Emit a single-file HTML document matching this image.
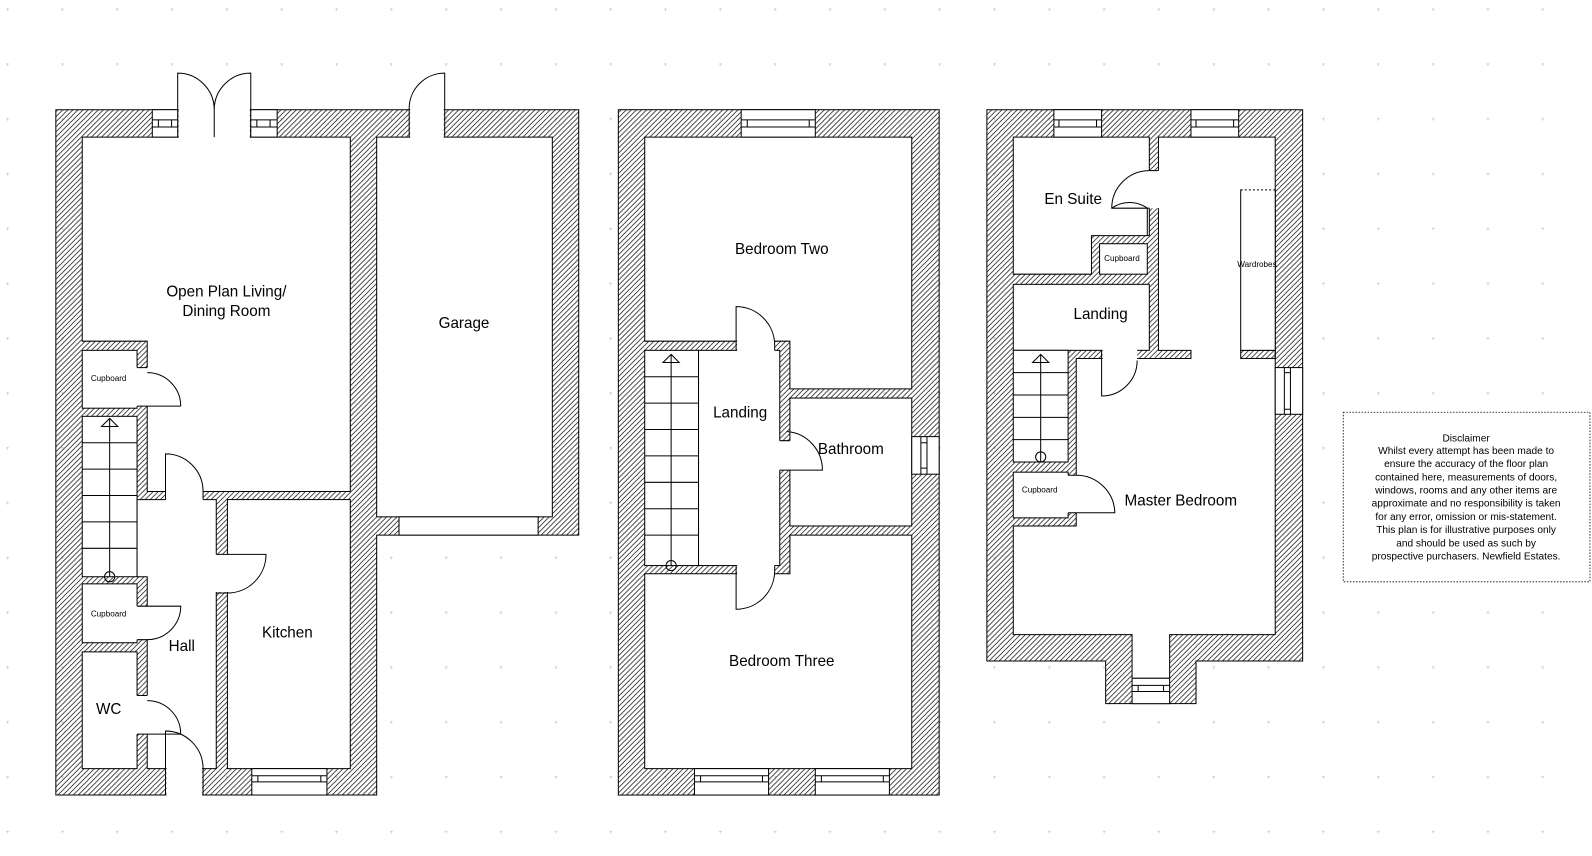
<!DOCTYPE html>
<html><head><meta charset="utf-8"><style>
html,body{margin:0;padding:0;background:#fff}
svg{display:block}
text{font-family:"Liberation Sans",sans-serif;fill:#000}
</style></head><body>
<svg width="1592" height="856" viewBox="0 0 1568 843" xmlns="http://www.w3.org/2000/svg">
<defs>
<pattern id="h" patternUnits="userSpaceOnUse" width="5" height="5">
<path d="M-1,6 L6,-1 M-1,1 L1,-1 M4,6 L6,4" stroke="#000" stroke-width="0.7"/>
</pattern>
<pattern id="g" patternUnits="userSpaceOnUse" width="54" height="54" x="6" y="8">
<path d="M0,1 H3 M1.5,0 V3" stroke="#ccc" stroke-width="0.8"/>
</pattern>
</defs>
<rect width="1568" height="843" fill="url(#g)"/>
<g stroke="#000" stroke-width="1" fill="#fff">
<!-- GROUND FLOOR -->
<polygon points="55,108 570,108 570,527 371,527 371,783 55,783" fill="url(#h)"/>
<polygon points="81,135 345,135 345,484 145,484 145,336 81,336"/>
<rect x="81" y="345" width="54" height="57"/>
<rect x="81" y="410" width="54" height="158"/>
<polygon points="135,492 213,492 213,757 145,757 145,568 135,568"/>
<rect x="224" y="492" width="121" height="265"/>
<rect x="81" y="575" width="54" height="58"/>
<rect x="81" y="642" width="54" height="115"/>
<rect x="371" y="135" width="173" height="374"/>
<rect x="393" y="509" width="137" height="18"/>
</g>
<g fill="#fff" stroke="none">
<rect x="134" y="362" width="12" height="38"/>
<rect x="163" y="483" width="37" height="10"/>
<rect x="212" y="546" width="13" height="37"/>
<rect x="134" y="597" width="12" height="33"/>
<rect x="134" y="685" width="12" height="38"/>
<rect x="164" y="756" width="35" height="28"/>
<rect x="176" y="107" width="70" height="29"/>
<rect x="404" y="107" width="33" height="29"/>
</g>
<g stroke="#000" stroke-width="1" fill="none">
<!-- stairs ground -->
<path d="M81,436H135M81,462H135M81,488H135M81,514H135M81,540H135M108,568V412M100,420L108,412L116,420Z"/>
<circle cx="108" cy="568" r="5"/>
<!-- doors -->
<path d="M135,362H145M135,400H178M178,400A33,33 0 0 0 145,367"/>
<path d="M163,492V447A37,37 0 0 1 200,484V492"/>
<path d="M213,546H262A38,38 0 0 1 224,584H213"/>
<path d="M135,597H178A33,33 0 0 1 145,630H135"/>
<path d="M135,685H145M135,723H178A33,33 0 0 0 145,690"/>
<path d="M163,783V720A37,37 0 0 1 200,757V783"/>
<path d="M175,135V72A36,36 0 0 1 211,108V135M247,135V72A36,36 0 0 0 211,108"/>
<path d="M403,135V108A35,35 0 0 1 438,72V135"/>
<!-- windows ground -->
<rect x="150" y="108" width="25" height="27" fill="#fff"/><path d="M150,118H175M150,125H175M156,118V125M169,118V125"/>
<rect x="247" y="108" width="26" height="27" fill="#fff"/><path d="M247,118H273M247,125H273M253,118V125M266,118V125"/>
<rect x="248" y="757" width="74" height="26" fill="#fff"/><path d="M248,764H322M248,770H322M254,764V770M316,764V770"/>
</g>

<!-- FIRST FLOOR -->
<g stroke="#000" stroke-width="1" fill="#fff">
<rect x="609" y="108" width="316" height="675" fill="url(#h)"/>
<polygon points="635,135 898,135 898,383 778,383 778,336 635,336"/>
<rect x="635" y="345" width="53" height="212"/>
<rect x="688" y="345" width="80" height="212"/>
<rect x="778" y="392" width="120" height="126"/>
<polygon points="635,565 778,565 778,527 898,527 898,757 635,757"/>
</g>
<g fill="#fff" stroke="none">
<rect x="726" y="335" width="37" height="11"/>
<rect x="726" y="556" width="37" height="10"/>
<rect x="767" y="434" width="12" height="29"/>
<rect x="689" y="346" width="78" height="210"/>
</g>
<g stroke="#000" stroke-width="1" fill="none">
<path d="M635,371H688M635,397H688M635,423H688M635,449H688M635,475H688M635,501H688M635,527H688M661,557V349M653,357L661,349L669,357Z"/>
<circle cx="661" cy="557" r="5"/>
<path d="M725,345V302A38,38 0 0 1 763,340V345"/>
<path d="M725,557V600A38,38 0 0 0 763,562V557"/>
<path d="M768,434H778M768,463H810A38,38 0 0 0 775,425"/>
<rect x="730" y="108" width="73" height="27" fill="#fff"/><path d="M730,118H803M730,125H803M736,118V125M797,118V125"/>
<rect x="684" y="757" width="73" height="26" fill="#fff"/><path d="M684,764H757M684,770H757M690,764V770M751,764V770"/>
<rect x="803" y="757" width="73" height="26" fill="#fff"/><path d="M803,764H876M803,770H876M809,764V770M870,764V770"/>
<rect x="898" y="430" width="27" height="37" fill="#fff"/><path d="M907,430V467M913,430V467M907,436H913M907,461H913"/>
</g>

<!-- SECOND FLOOR -->
<g stroke="#000" stroke-width="1" fill="#fff">
<polygon points="972,108 1283,108 1283,651 1178,651 1178,693 1089,693 1089,651 972,651" fill="url(#h)"/>
<polygon points="998,135 1132,135 1132,232 1075,232 1075,270 998,270"/>
<rect x="1083" y="240" width="47" height="30"/>
<polygon points="1141,135 1256,135 1256,625 1152,625 1152,668 1115,668 1115,625 998,625 998,518 1060,518 1060,353 1173,353 1173,345 1141,345"/>
<rect x="998" y="280" width="134" height="65"/>
<rect x="998" y="345" width="54" height="110"/>
<rect x="998" y="465" width="54" height="45"/>
<rect x="1222" y="345" width="34" height="8" fill="url(#h)"/>
<rect x="1222" y="187" width="34" height="158"/>
</g>
<g fill="#fff" stroke="none">
<rect x="1131" y="168" width="11" height="37"/>
<rect x="1086" y="344" width="34" height="10"/>
<rect x="1051" y="468" width="10" height="37"/>
<rect x="1223" y="186" width="32" height="2"/>
</g>
<g stroke="#000" stroke-width="1" fill="none">
<path d="M1222,187H1256" stroke-dasharray="2,2"/>
<path d="M998,367H1052M998,389H1052M998,411H1052M998,433H1052M1025,455V349M1017,357L1025,349L1033,357Z"/>
<circle cx="1025" cy="450" r="5"/>
<path d="M1132,168H1141M1132,205H1095A37,37 0 0 1 1132,168"/>
<path d="M1095,205A30,30 0 0 1 1130,205V232"/>
<path d="M1085,345V390A35,35 0 0 0 1120,355"/>
<path d="M1052,468H1060M1052,505H1098A38,38 0 0 0 1060,468"/>
<rect x="1038" y="108" width="47" height="27" fill="#fff"/><path d="M1038,118H1085M1038,125H1085M1043,118V125M1080,118V125"/>
<rect x="1173" y="108" width="47" height="27" fill="#fff"/><path d="M1173,118H1220M1173,125H1220M1178,118V125M1215,118V125"/>
<rect x="1256" y="362" width="27" height="46" fill="#fff"/><path d="M1265,362V408M1271,362V408M1265,367H1271M1265,403H1271"/>
<rect x="1115" y="668" width="37" height="25" fill="#fff"/><path d="M1115,675H1152M1115,681H1152M1121,675V681M1146,675V681"/>
</g>

<!-- Disclaimer -->
<rect x="1323" y="406" width="243" height="167" fill="#fff" stroke="#000" stroke-width="0.8" stroke-dasharray="1.5,1.5"/>
<g font-size="10" text-anchor="middle">
<text x="1444" y="435">Disclaimer</text>
<text x="1444" y="447">Whilst every attempt has been made to</text>
<text x="1444" y="460">ensure the accuracy of the floor plan</text>
<text x="1444" y="473">contained here, measurements of doors,</text>
<text x="1444" y="486">windows, rooms and any other items are</text>
<text x="1444" y="499">approximate and no responsibility is taken</text>
<text x="1444" y="512">for any error, omission or mis-statement.</text>
<text x="1444" y="525">This plan is for illustrative purposes only</text>
<text x="1444" y="538">and should be used as such by</text>
<text x="1444" y="551">prospective purchasers. Newfield Estates.</text>
</g>

<!-- Labels -->
<g font-size="15" text-anchor="middle">
<text x="223" y="292">Open Plan Living/</text>
<text x="223" y="311">Dining Room</text>
<text x="457" y="323">Garage</text>
<text x="179" y="641">Hall</text>
<text x="283" y="628">Kitchen</text>
<text x="107" y="703">WC</text>
<text x="770" y="250">Bedroom Two</text>
<text x="729" y="411">Landing</text>
<text x="838" y="447">Bathroom</text>
<text x="770" y="656">Bedroom Three</text>
<text x="1057" y="201">En Suite</text>
<text x="1084" y="314">Landing</text>
<text x="1163" y="498">Master Bedroom</text>
</g>
<g font-size="8" text-anchor="middle">
<text x="107" y="375">Cupboard</text>
<text x="107" y="607">Cupboard</text>
<text x="1105" y="257">Cupboard</text>
<text x="1024" y="485">Cupboard</text>
<text x="1238" y="263">Wardrobes</text>
</g>
</svg>
</body></html>
